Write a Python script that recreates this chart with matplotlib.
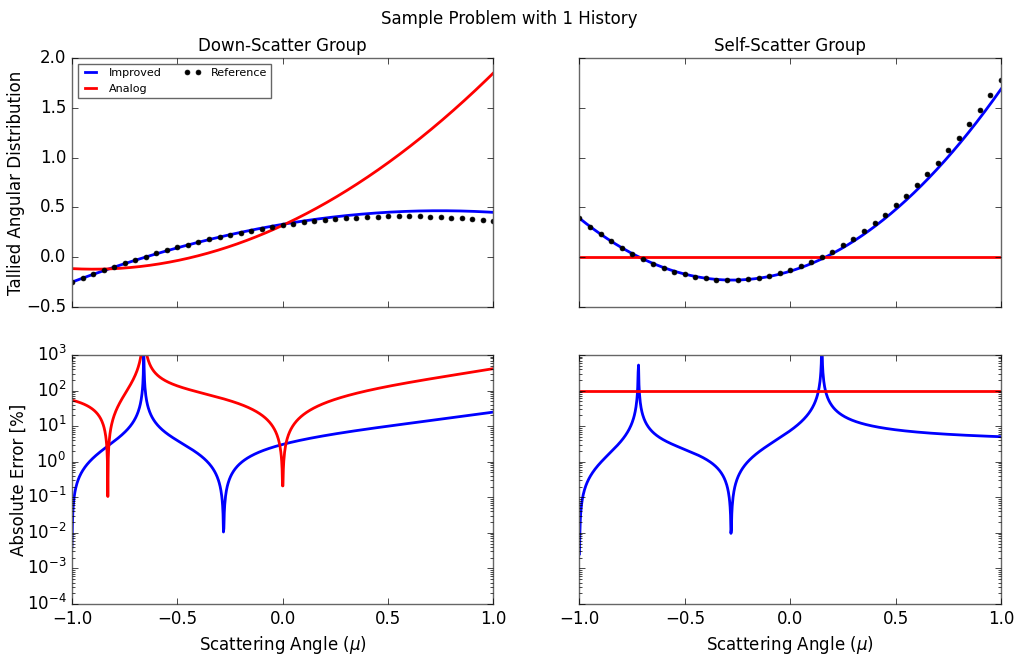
import numpy as np
import matplotlib
matplotlib.use('Agg')
import matplotlib.pyplot as plt
from numpy.polynomial import polynomial as P

# polynomial coefficients (ascending powers of mu)
down_reference = [0.32, 0.315, -0.265, -0.01]
down_improved = [0.32981, 0.3598, -0.230, -0.01]
down_analog = [0.32, 0.9825, 0.5475]

self_reference = [-0.13131, 0.69316, 1.215]
self_improved = [-0.14112, 0.64836, 1.18]
self_analog = [0.0]

groups = ['Down-Scatter Group', 'Self-Scatter Group']
coeffs = [(down_improved, down_analog, down_reference),
          (self_improved, self_analog, self_reference)]

mu = np.linspace(-1, 1, 1000)
mu_ref = np.linspace(-1, 1, 41)

plt.style.use('classic')
plt.rcParams['mathtext.fontset'] = 'dejavusans'
plt.rcParams['axes.edgecolor'] = '0.4'

fig, axes = plt.subplots(2, 2, figsize=(10.18, 6.55), dpi=100,
                         sharex=True, sharey='row', facecolor='white')
fig.subplots_adjust(left=0.0707, right=0.9833, bottom=0.0779, top=0.9115,
                    wspace=0.204, hspace=0.193)

for j, (imp, ana, ref) in enumerate(coeffs):
    f_imp = P.polyval(mu, imp)
    f_ana = P.polyval(mu, ana) * np.ones_like(mu)
    f_ref = P.polyval(mu, ref)

    # Distribuzioni
    ax = axes[0, j]
    ax.plot(mu, f_imp, 'b-', lw=2, label='Improved')
    ax.plot(mu, f_ana, 'r-', lw=2, label='Analog')
    ax.plot(mu_ref, P.polyval(mu_ref, ref), 'k.', ms=7, label='Reference')
    ax.set_title(groups[j], fontsize=12)
    ax.set_ylim(-0.5, 2.0)
    ax.set_yticks(np.arange(-0.5, 2.01, 0.5))

    # Errore assoluto
    ax = axes[1, j]
    ax.semilogy(mu, 100 * np.abs(f_imp - f_ref) / np.abs(f_ref), 'b-', lw=2)
    ax.semilogy(mu, 100 * np.abs(f_ana - f_ref) / np.abs(f_ref), 'r-', lw=2)
    ax.set_ylim(1e-4, 1e3)
    ax.set_xlabel(r'Scattering Angle ($\mu$)', fontsize=12)

for ax in axes.flat:
    ax.set_xlim(-1, 1)
    ax.set_xticks(np.arange(-1, 1.01, 0.5))
    ax.tick_params(labelsize=12)
    ax.set_facecolor('white')

axes[0, 0].set_ylabel('Tallied Angular Distribution', fontsize=12)
axes[1, 0].set_ylabel('Absolute Error [%]', fontsize=12)
axes[0, 0].yaxis.set_label_coords(-0.112, 0.5)
axes[1, 0].yaxis.set_label_coords(-0.105, 0.5)
axes[0, 0].legend(loc='upper left', ncol=2, fontsize=8, numpoints=2,
                  handlelength=1.6, columnspacing=2.0)

fig.suptitle('Sample Problem with 1 History', fontsize=12, y=0.985)

plt.savefig('out.png', dpi=100, facecolor='white')
